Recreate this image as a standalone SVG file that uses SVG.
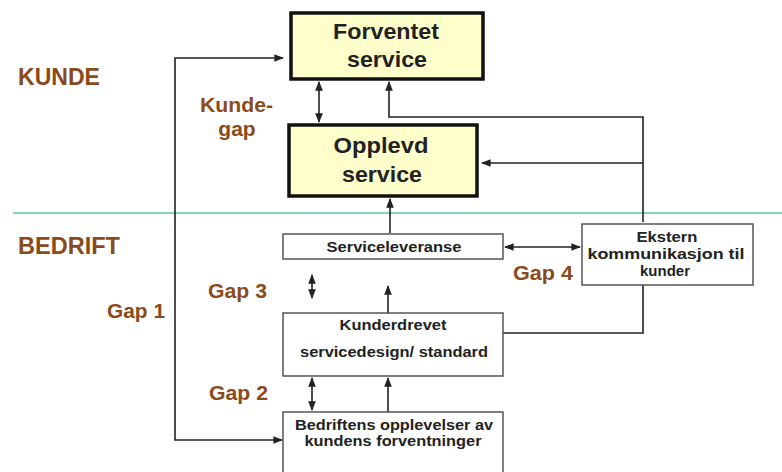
<svg xmlns="http://www.w3.org/2000/svg" width="782" height="472" viewBox="0 0 782 472">
  <style>
    .top { fill: #ffffcc; stroke: #111; stroke-width: 3.5; }
    .box { fill: #fff; stroke: #555; stroke-width: 1.5; }
    .big { font-family: "Liberation Sans", Arial, sans-serif; font-weight: bold; font-size: 22px; fill: #222; text-anchor: middle; }
    .small { font-family: "Liberation Sans", Arial, sans-serif; font-weight: bold; font-size: 15px; fill: #222; text-anchor: middle; }
    .lbl { font-family: "Liberation Sans", Arial, sans-serif; font-weight: bold; font-size: 21px; fill: #8b4a1c; }
    .side { font-size: 23px; }
    .ln { fill: none; stroke: #222; stroke-width: 1.6; }
  </style>
  <defs>
    <marker id="ah" viewBox="0 0 10 10" refX="9" refY="5" markerWidth="6" markerHeight="6" orient="auto-start-reverse">
      <path d="M0,1 L10,5 L0,9 z" fill="#222"/>
    </marker>
  </defs>

  <rect width="782" height="472" fill="#fff"/>

  <!-- divider between customer and company -->
  <line x1="13" y1="213" x2="782" y2="213" stroke="#5cc4a8" stroke-width="1.5"/>

  <text class="lbl side" x="18" y="85" textLength="82" lengthAdjust="spacingAndGlyphs">KUNDE</text>
  <text class="lbl side" x="18" y="254" textLength="102" lengthAdjust="spacingAndGlyphs">BEDRIFT</text>
  <text class="lbl" x="200" y="112" textLength="73" lengthAdjust="spacingAndGlyphs">Kunde-</text>
  <text class="lbl" x="237" y="136" text-anchor="middle">gap</text>
  <text class="lbl" x="107" y="318" textLength="58" lengthAdjust="spacingAndGlyphs">Gap 1</text>
  <text class="lbl" x="208" y="298" textLength="59" lengthAdjust="spacingAndGlyphs">Gap 3</text>
  <text class="lbl" x="209" y="400" textLength="59" lengthAdjust="spacingAndGlyphs">Gap 2</text>
  <text class="lbl" x="513" y="280" textLength="60" lengthAdjust="spacingAndGlyphs">Gap 4</text>

  <g id="connectors">
    <path class="ln" d="M282,440 H175 V58 H283" marker-end="url(#ah)" marker-start="url(#ah)"/>
    <line class="ln" x1="319" y1="82" x2="319" y2="122" marker-start="url(#ah)" marker-end="url(#ah)"/>
    <path class="ln" d="M643,222 V117 H389 V82" marker-end="url(#ah)"/>
    <line class="ln" x1="643" y1="163" x2="482" y2="163" marker-end="url(#ah)"/>
    <line class="ln" x1="390" y1="233" x2="390" y2="199" marker-end="url(#ah)"/>
    <line class="ln" x1="505" y1="247" x2="580" y2="247" marker-start="url(#ah)" marker-end="url(#ah)"/>
    <line class="ln" x1="312" y1="275" x2="312" y2="298" marker-start="url(#ah)" marker-end="url(#ah)"/>
    <line class="ln" x1="388" y1="313" x2="388" y2="286" marker-end="url(#ah)"/>
    <path class="ln" d="M503,333 H643 V285"/>
    <line class="ln" x1="312" y1="378" x2="312" y2="410" marker-start="url(#ah)" marker-end="url(#ah)"/>
    <line class="ln" x1="388" y1="412" x2="388" y2="378" marker-end="url(#ah)"/>
  </g>

  <g id="forventet">
    <rect class="top" x="291" y="13" width="192" height="66"/>
    <text class="big" x="386" y="39" textLength="106" lengthAdjust="spacingAndGlyphs">Forventet</text>
    <text class="big" x="387" y="67" textLength="80" lengthAdjust="spacingAndGlyphs">service</text>
  </g>
  <g id="opplevd">
    <rect class="top" x="289" y="125" width="188" height="71"/>
    <text class="big" x="381" y="153" textLength="95" lengthAdjust="spacingAndGlyphs">Opplevd</text>
    <text class="big" x="382" y="182" textLength="80" lengthAdjust="spacingAndGlyphs">service</text>
  </g>
  <g id="serviceleveranse">
    <rect class="box" x="283" y="234" width="220" height="25"/>
    <text class="small" x="394" y="252" textLength="135" lengthAdjust="spacingAndGlyphs">Serviceleveranse</text>
  </g>
  <g id="ekstern">
    <rect class="box" x="582" y="224" width="171" height="61"/>
    <text class="small" x="667" y="242" textLength="61" lengthAdjust="spacingAndGlyphs">Ekstern</text>
    <text class="small" x="666" y="259" textLength="157" lengthAdjust="spacingAndGlyphs">kommunikasjon til</text>
    <text class="small" x="665" y="276" textLength="50" lengthAdjust="spacingAndGlyphs">kunder</text>
  </g>
  <g id="kunderdrevet">
    <rect class="box" x="283" y="313" width="220" height="63"/>
    <text class="small" x="393" y="330" textLength="107" lengthAdjust="spacingAndGlyphs">Kunderdrevet</text>
    <text class="small" x="394" y="357" textLength="188" lengthAdjust="spacingAndGlyphs">servicedesign/ standard</text>
  </g>
  <g id="bedriftens">
    <rect class="box" x="283" y="412" width="220" height="70"/>
    <text class="small" x="394" y="430" textLength="198" lengthAdjust="spacingAndGlyphs">Bedriftens opplevelser av</text>
    <text class="small" x="393" y="446" textLength="177" lengthAdjust="spacingAndGlyphs">kundens forventninger</text>
  </g>
</svg>
